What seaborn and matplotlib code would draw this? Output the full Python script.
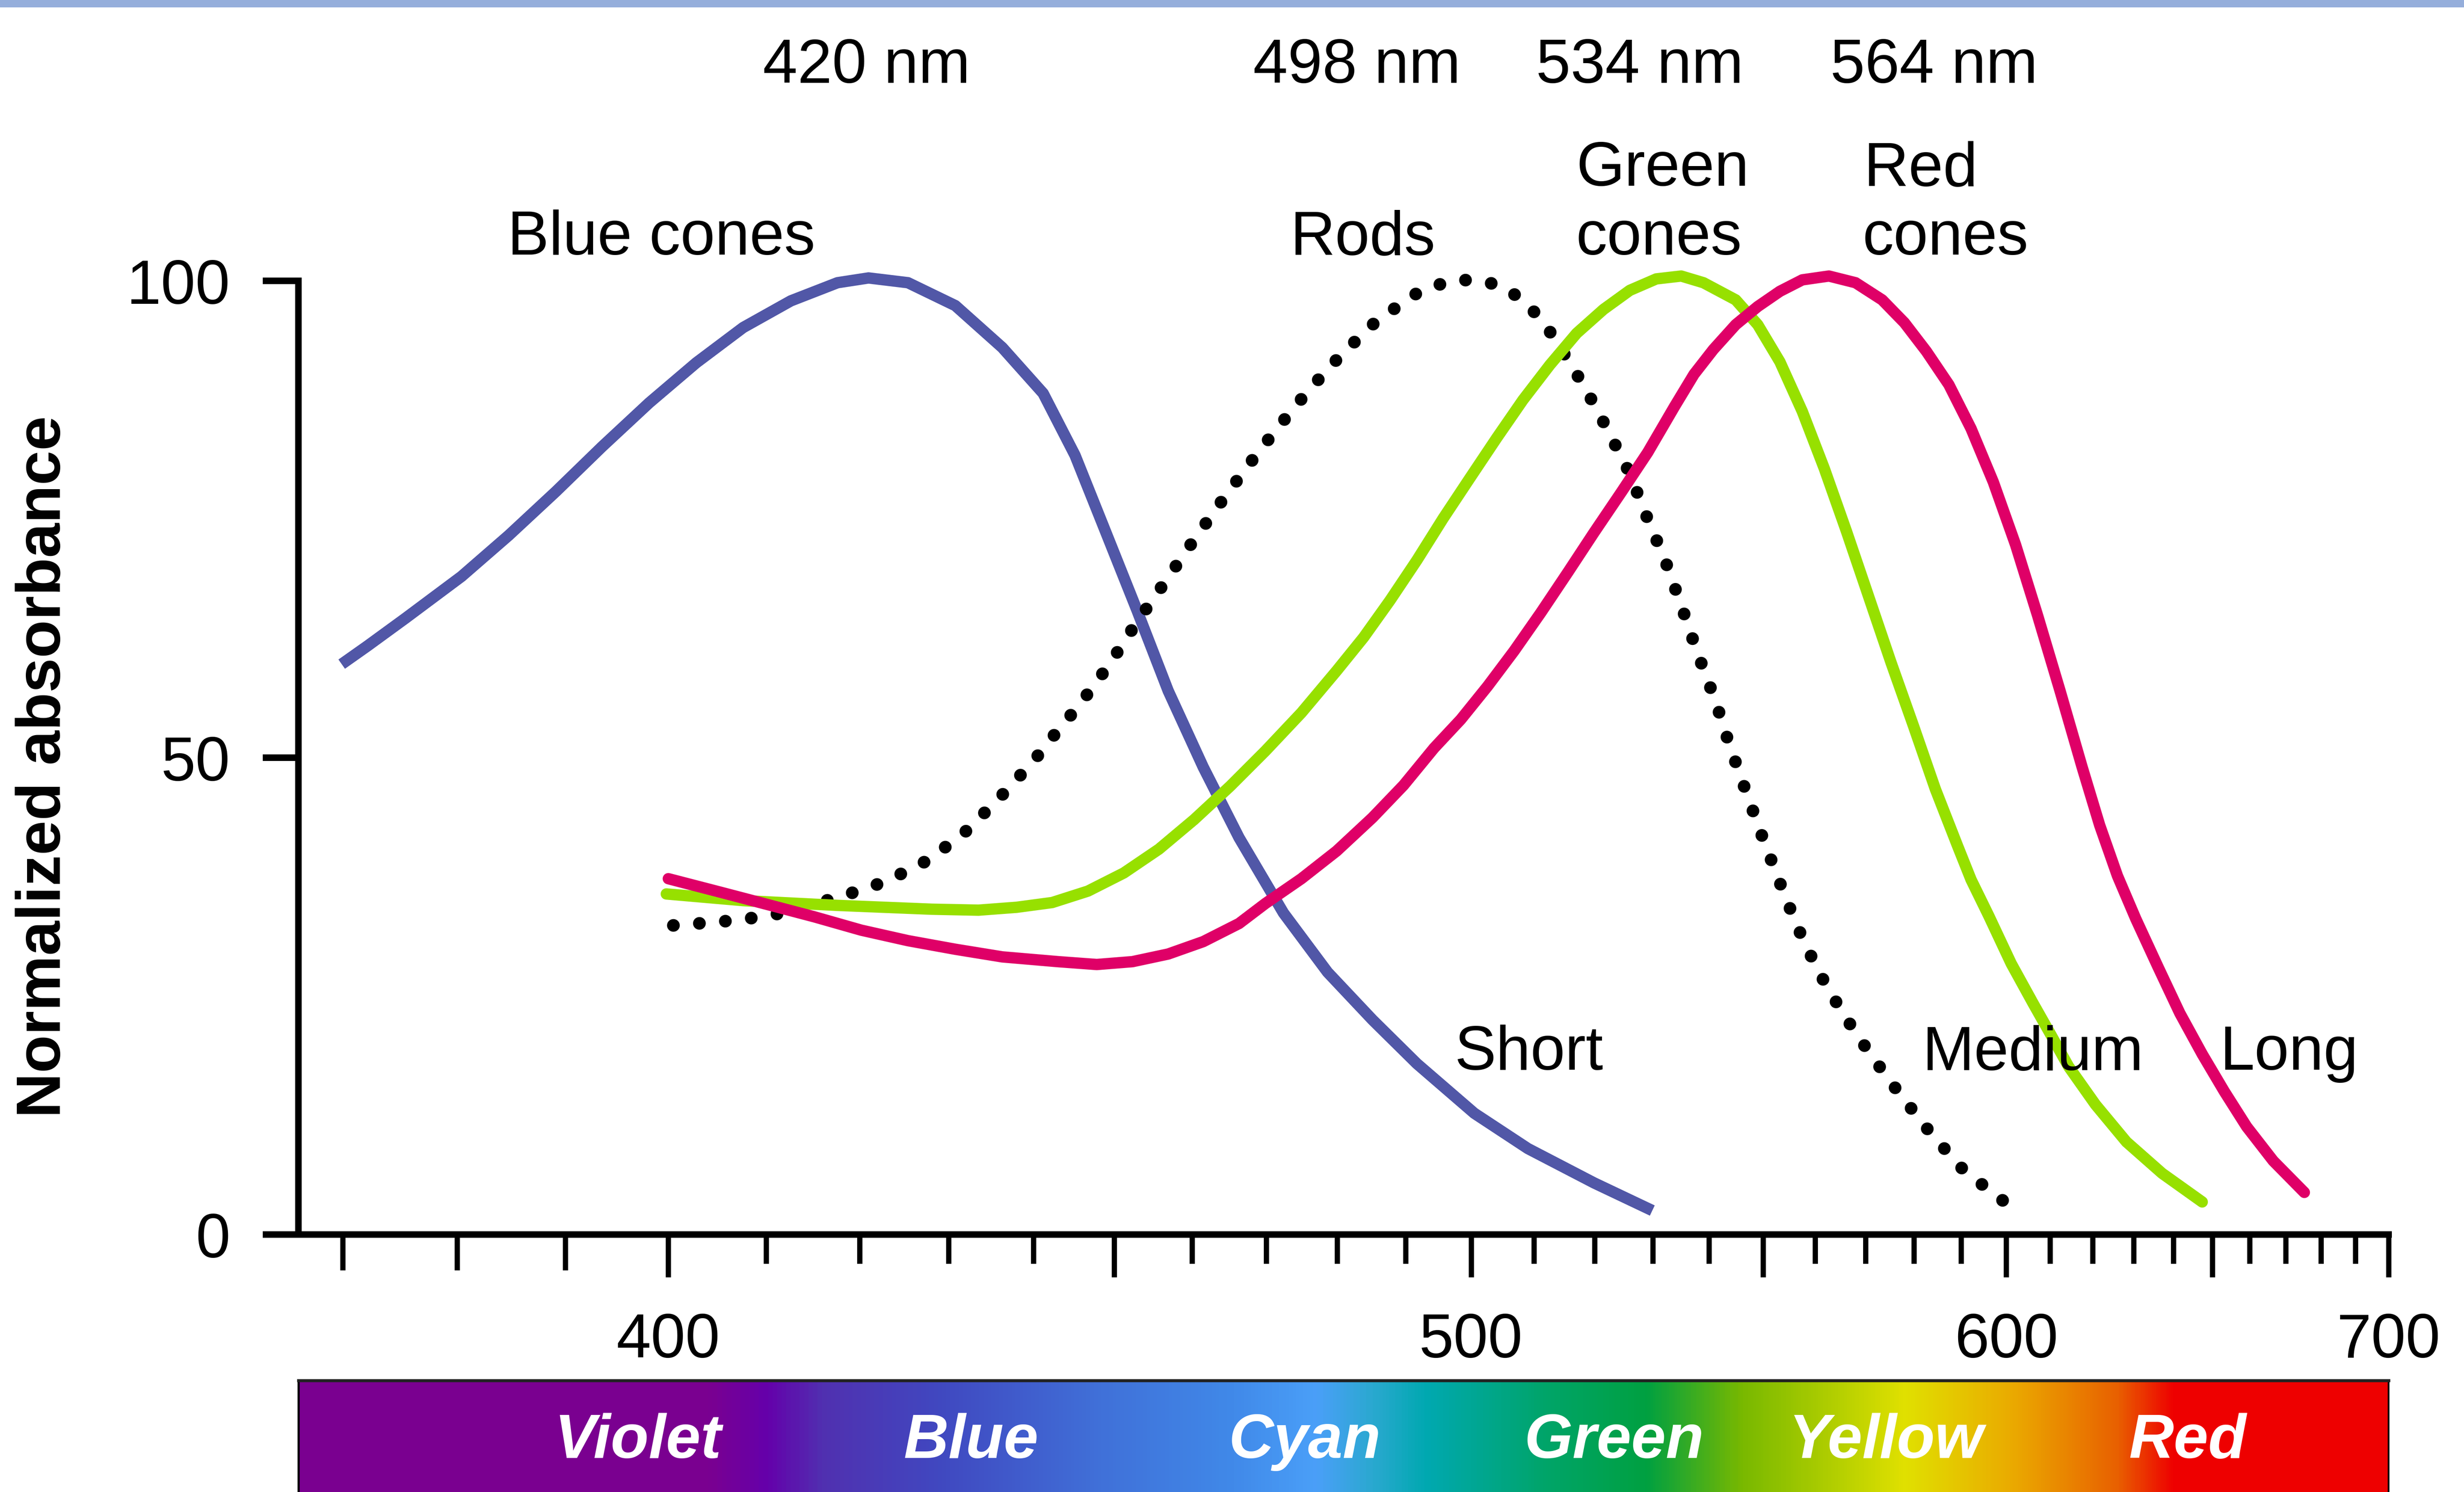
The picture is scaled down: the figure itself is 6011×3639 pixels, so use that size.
import numpy as np
import pandas as pd
import matplotlib
matplotlib.use('Agg')
import matplotlib.pyplot as plt
import matplotlib.transforms as mtransforms
from matplotlib.colors import LinearSegmentedColormap, Normalize
from matplotlib.patches import Rectangle
import seaborn as sns

# values: wavelength (nm) vs normalized absorbance
short_nm = [369.9, 372.1, 375.4, 380.4, 384.7, 389.1, 393.5, 398.1, 402.8, 407.6,
            412.6, 417.6, 421.0, 425.4, 430.8, 436.3, 441.2, 445.1, 448.9, 452.9,
            456.9, 461.5, 466.3, 472.4, 478.6, 485.1, 491.7, 500.5, 509.0, 519.9, 529.9]
short_abs = [59.8, 61.7, 64.6, 69.0, 73.3, 77.9, 82.6, 87.2, 91.4, 95.1,
             97.9, 99.8, 100.3, 99.8, 97.4, 93.0, 88.2, 81.7, 73.7, 65.4,
             57.0, 49.0, 41.6, 33.7, 27.5, 22.5, 17.9, 12.7, 9.0, 5.4, 2.5]

rod_nm = [400.5, 405.4, 410.4, 417.9, 422.9, 427.8, 432.2, 436.2, 440.1, 442.0,
          445.8, 449.4, 452.7, 456.3, 459.9, 463.6, 467.5, 471.6, 475.9, 480.5,
          485.7, 491.7, 495.0, 498.6, 502.5, 506.0, 509.1, 511.7, 513.9, 516.0,
          518.1, 520.1, 522.0, 523.9, 525.9, 528.9, 532.2, 535.1, 537.9, 541.2,
          543.7, 546.7, 549.8, 553.1, 556.5, 560.5, 565.3, 570.7, 576.6, 582.9,
          589.8, 598.1, 602.6]
rod_abs = [32.4, 32.8, 33.4, 35.4, 37.0, 39.3, 42.4, 46.0, 49.7, 51.8,
           55.7, 59.8, 64.0, 68.2, 72.4, 76.5, 80.6, 84.6, 88.5, 92.2,
           95.8, 98.7, 99.6, 100.1, 99.9, 99.0, 97.4, 95.5, 93.4, 91.2,
           89.1, 86.8, 84.6, 82.3, 79.9, 75.3, 70.6, 65.8, 61.0, 55.9,
           51.4, 46.6, 41.8, 37.0, 32.3, 27.7, 23.3, 19.1, 15.0, 11.0,
           7.1, 3.9, 2.5]

med_nm = [399.8, 407.6, 417.6, 428.1, 433.5, 438.0, 442.3, 446.7, 451.2, 455.7,
          460.3, 465.1, 469.9, 474.9, 479.9, 483.8, 487.7, 491.7, 495.7, 499.8,
          504.0, 508.2, 512.6, 517.0, 521.5, 526.0, 530.6, 535.0, 539.0, 544.9,
          549.0, 553.2, 557.5, 561.8, 566.2, 570.7, 575.2, 579.9, 584.5, 589.3,
          592.2, 596.1, 601.1, 606.1, 610.2, 614.3, 620.7, 628.2, 637.1, 647.4]
med_abs = [35.7, 35.0, 34.5, 34.1, 34.0, 34.3, 34.8, 36.0, 37.9, 40.4,
           43.5, 47.0, 50.7, 54.7, 59.1, 62.6, 66.5, 70.7, 75.1, 79.3,
           83.5, 87.5, 91.2, 94.5, 97.0, 99.0, 100.2, 100.5, 99.8, 98.0,
           95.4, 91.5, 86.3, 80.3, 73.7, 66.8, 60.0, 53.3, 46.7, 40.7,
           37.2, 33.4, 28.4, 24.2, 20.9, 17.6, 13.6, 9.7, 6.4, 3.4]

long_nm = [400.0, 405.2, 410.1, 415.1, 420.2, 425.4, 430.8, 436.3, 443.0, 447.8,
           452.3, 456.9, 461.5, 466.3, 469.9, 474.9, 479.9, 485.1, 489.7, 494.3,
           498.4, 502.6, 506.8, 511.1, 515.5, 519.9, 524.5, 529.1, 533.8, 537.3,
           540.8, 544.9, 549.0, 553.2, 557.5, 562.7, 568.0, 573.4, 578.0, 582.6,
           587.4, 592.2, 597.1, 602.1, 607.1, 612.3, 617.5, 621.7, 626.0, 630.5,
           636.0, 641.6, 647.4, 653.2, 659.2, 666.5, 675.2]
long_abs = [37.3, 35.9, 34.6, 33.3, 31.9, 30.8, 29.9, 29.1, 28.6, 28.3,
            28.6, 29.4, 30.7, 32.6, 34.7, 37.3, 40.2, 43.7, 47.1, 51.0,
            54.0, 57.5, 61.2, 65.2, 69.4, 73.6, 77.8, 82.0, 86.8, 90.2,
            92.8, 95.4, 97.3, 98.9, 100.1, 100.5, 99.8, 98.0, 95.6, 92.6,
            89.1, 84.5, 78.9, 72.3, 64.9, 57.0, 49.0, 42.9, 37.6, 33.1,
            28.1, 23.2, 18.9, 15.0, 11.3, 7.7, 4.4]

peak_labels = ['420 nm', '498 nm', '534 nm', '564 nm']
peak_label_nm = [420.8, 482.8, 527.7, 584.2]

band_names = ['Violet', 'Blue', 'Cyan', 'Green', 'Yellow', 'Red']
band_nm = [397.0, 432.6, 475.4, 523.3, 574.2, 643.6]

# spectrum bar colour stops (nm, colour)
spec_nm = [366, 404, 410, 416, 429, 448, 465, 477, 485, 493, 512, 529, 546, 578, 602, 626, 640, 700]
spec_col = ['#7a0090', '#7a0090', '#6400aa', '#5030b0', '#4048c0', '#4070d8', '#4088e8', '#4a9ff8',
            '#2aa8d0', '#00a8b0', '#00a468', '#00a040', '#78b800', '#e0e000', '#eaa800', '#e86000',
            '#ee0000', '#ee0000']

sns.set_style('ticks')
plt.rcParams['font.family'] = ['Liberation Sans', 'DejaVu Sans']
plt.rcParams.update({'axes.linewidth': 3.0, 'text.color': 'black', 'axes.labelcolor': 'black',
                     'xtick.color': 'black', 'ytick.color': 'black', 'axes.edgecolor': 'black'})


def fwd(x):
    x = np.asarray(x, float)
    with np.errstate(divide='ignore', invalid='ignore'):
        return -1.0 / x


XMIN, XMAX = 366.26, 700
FS = 28.5

fig = plt.figure(figsize=(15.68, 9.495), dpi=383.355)
ax = fig.add_axes([0.12117, 0.17263, 0.84822, 0.63895])
ax.set_xscale('function', functions=(fwd, fwd))

line_kw = dict(ax=ax, sort=False, clip_on=False, legend=False)
sns.lineplot(x=short_nm, y=short_abs, color='#5157a7', linewidth=5.2,
             solid_capstyle='butt', solid_joinstyle='round', **line_kw)
sns.lineplot(x=rod_nm, y=rod_abs, color='black', linewidth=5.8,
             linestyle=(0, (0.01, 2.05)), dash_capstyle='round', **line_kw)
sns.lineplot(x=med_nm, y=med_abs, color='#97e000', linewidth=5.2,
             solid_capstyle='round', solid_joinstyle='round', **line_kw)
sns.lineplot(x=long_nm, y=long_abs, color='#df0067', linewidth=5.2,
             solid_capstyle='round', solid_joinstyle='round', **line_kw)

ax.set_xlim(XMIN, XMAX)
ax.set_ylim(0, 100)
sns.despine(ax=ax)
ax.set_xlabel('')
ax.set_ylabel('')

major = [400, 450, 500, 550, 600, 650, 700]
ax.set_xticks(major, ['400', '', '500', '', '600', '', '700'])
ax.set_xticks([v for v in range(370, 700, 10) if v not in major], minor=True)
ax.tick_params(axis='x', which='major', length=19.5, width=2.4, pad=16, labelsize=FS,
               direction='out')
ax.tick_params(axis='x', which='minor', length=13.3, width=2.4, direction='out')
ax.set_yticks([0, 50, 100])
ax.tick_params(axis='y', length=16.4, width=3.0, pad=15, labelsize=FS, direction='out')
for t, loc in zip(ax.xaxis.get_minor_ticks(), ax.xaxis.get_minorticklocs()):
    if loc < 400:
        t.tick1line.set_markersize(16.4)

# curve labels
txt = dict(va='baseline', fontsize=FS, clip_on=False)
for s, x in zip(peak_labels, peak_label_nm):
    ax.text(x, 120.8, s, ha='center', **txt)
ax.text(399.3, 102.8, 'Blue cones', ha='center', **txt)
ax.text(483.7, 102.8, 'Rods', ha='center', **txt)
ax.text(516.9, 110.0, 'Green', ha='left', **txt)
ax.text(516.9, 102.8, 'cones', ha='left', **txt)
ax.text(569.6, 110.0, 'Red', ha='left', **txt)
ax.text(569.4, 102.8, 'cones', ha='left', **txt)
ax.text(497.4, 17.3, 'Short', ha='left', **txt)
ax.text(581.7, 17.3, 'Medium', ha='left', **txt)
ax.text(652.0, 17.3, 'Long', ha='left', **txt)

fig.text(0.0179, 0.4863, 'Normalized absorbance', rotation=90, ha='center', va='center',
         fontsize=FS, fontweight='bold')

# spectrum bar
cax = fig.add_axes([0.12117, 0.0, 0.84822, 71 / 950])
cax.set_xscale('function', functions=(fwd, fwd))
lo, hi = spec_nm[0], spec_nm[-1]
cmap = LinearSegmentedColormap.from_list(
    'spec', [((v - lo) / (hi - lo), c) for v, c in zip(spec_nm, spec_col)], N=1024)
edges = np.linspace(XMIN, XMAX, 700)
mids = (edges[:-1] + edges[1:]) / 2
cax.pcolormesh(edges, [0, 1], mids[None, :], cmap=cmap, norm=Normalize(lo, hi), shading='flat')
cax.set_xlim(XMIN, XMAX)
cax.set_ylim(0, 1)
cax.tick_params(which='both', bottom=False, left=False, labelbottom=False, labelleft=False)
cax.spines['bottom'].set_visible(False)
cax.spines['top'].set_linewidth(1.4)
cax.spines['top'].set_color('#222222')
cax.spines['left'].set_linewidth(1.0)
cax.spines['right'].set_linewidth(0.8)
trans = mtransforms.blended_transform_factory(cax.transData, cax.transAxes)
for s, x in zip(band_names, band_nm):
    cax.text(x, 0.31, s, transform=trans, ha='center', va='baseline', color='white',
             fontsize=FS, fontweight='bold', fontstyle='italic')

# thin band along the top edge
fig.add_artist(Rectangle((0, 1 - 5 / 950), 1, 5 / 950, transform=fig.transFigure,
                         color='#95aedb', lw=0))

fig.savefig('out.png', dpi=fig.dpi, facecolor='white')
